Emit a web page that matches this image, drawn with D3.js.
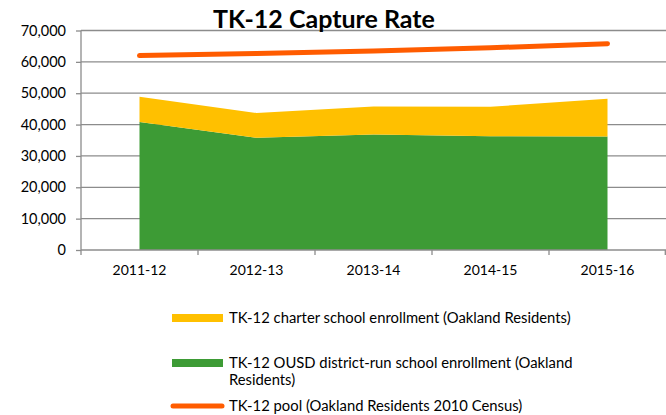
<!DOCTYPE html>
<html>
<head>
<meta charset="utf-8">
<script src="https://cdn.jsdelivr.net/npm/d3@7"></script>
<style>
  body { margin: 0; background: #fff; }
  svg { display: block; font-family: Lato, "Open Sans", sans-serif; }
</style>
</head>
<body>
<svg width="666" height="415"></svg>
<script>
// chart data
var years = ['2011-12', '2012-13', '2013-14', '2014-15', '2015-16'];
var district = [40800, 35800, 36800, 36300, 36200];
var charter = [8100, 7900, 9000, 9400, 12000];
var pool = [62000, 62700, 63500, 64500, 65800];
var yTicks = [0, 10000, 20000, 30000, 40000, 50000, 60000, 70000];

var svg = d3.select('svg');
var plotLeft = 81, plotRight = 666, plotTop = 30.5, plotBottom = 250;
var axisColor = '#8c8c8c';

var x = d3.scaleBand().domain(years).range([plotLeft, plotRight]);
var y = d3.scaleLinear().domain([0, 70000]).range([plotBottom, plotTop]);
var cx = function(d) { return x(d) + x.bandwidth() / 2; };

// gridlines
svg.append('g').selectAll('line')
  .data(yTicks.slice(1))
  .enter().append('line')
  .attr('x1', plotLeft).attr('x2', plotRight)
  .attr('y1', function(d) { return y(d); })
  .attr('y2', function(d) { return y(d); })
  .attr('stroke', axisColor).attr('stroke-width', 1.3);

var rows = years.map(function(yr, i) {
  return { year: yr, district: district[i], charter: charter[i] };
});
var stack = d3.stack().keys(['district', 'charter'])(rows);
var colors = { district: '#3d9b35', charter: '#ffc000' };

var area = d3.area()
  .x(function(d) { return cx(d.data.year); })
  .y0(function(d) { return y(d[0]); })
  .y1(function(d) { return y(d[1]); });

svg.append('g').selectAll('path')
  .data(stack)
  .enter().append('path')
  .attr('d', area)
  .attr('fill', function(s) { return colors[s.key]; });

// pool line
var line = d3.line()
  .x(function(d, i) { return cx(years[i]); })
  .y(function(d) { return y(d); });

svg.append('path')
  .datum(pool)
  .attr('d', line)
  .attr('fill', 'none')
  .attr('stroke', '#ff5c00')
  .attr('stroke-width', 5)
  .attr('stroke-linecap', 'round');

// axes
var yAxis = d3.axisLeft(y).tickValues(yTicks).tickSize(5).tickPadding(10)
  .tickFormat(d3.format(','));
var gy = svg.append('g').attr('transform', 'translate(' + plotLeft + ',0)').call(yAxis);
gy.select('.domain').attr('stroke', axisColor).attr('stroke-width', 1.3)
  .attr('d', 'M0,' + plotTop + 'V' + plotBottom);
gy.selectAll('.tick line').attr('stroke', axisColor).attr('stroke-width', 1.3);
gy.selectAll('text').attr('font-size', 14.5).attr('fill', '#000')
  .attr('font-family', 'Lato, "Open Sans", sans-serif');

var xAxis = d3.axisBottom(x).tickSize(0).tickPadding(15);
var gx = svg.append('g').attr('transform', 'translate(0,' + plotBottom + ')').call(xAxis);
gx.select('.domain').remove();
gx.append('line').attr('x1', plotLeft).attr('x2', plotRight)
  .attr('stroke', axisColor).attr('stroke-width', 1.3);
gx.selectAll('text').attr('font-size', 14).attr('fill', '#000')
  .attr('font-family', 'Lato, "Open Sans", sans-serif');
// category boundary ticks
var bounds = years.map(function(d) { return x(d); }).concat([plotRight - 0.7]);
gx.append('g').selectAll('line')
  .data(bounds)
  .enter().append('line')
  .attr('x1', function(d) { return d; }).attr('x2', function(d) { return d; })
  .attr('y1', 0).attr('y2', 5)
  .attr('stroke', axisColor).attr('stroke-width', 1.3);

// title
svg.append('text')
  .attr('x', 324).attr('y', 28)
  .attr('text-anchor', 'middle')
  .attr('font-size', 25).attr('font-weight', 'bold')
  .text('TK-12 Capture Rate');

// legend
var legend = [
  { lines: ['TK-12 charter school enrollment (Oakland Residents)'], color: '#ffc000', y: 318, kind: 'box' },
  { lines: ['TK-12 OUSD district-run school enrollment (Oakland', 'Residents)'], color: '#3d9b35', y: 363, kind: 'box' },
  { lines: ['TK-12 pool (Oakland Residents 2010 Census)'], color: '#ff5c00', y: 406, kind: 'line' }
];
var lg = svg.append('g').selectAll('g').data(legend).enter().append('g');
lg.each(function(d) {
  var g = d3.select(this);
  if (d.kind == 'box') {
    g.append('rect').attr('x', 172).attr('y', d.y - 4).attr('width', 51).attr('height', 8).attr('fill', d.color);
  } else {
    g.append('line').attr('x1', 173).attr('x2', 222).attr('y1', d.y).attr('y2', d.y)
      .attr('stroke', d.color).attr('stroke-width', 5).attr('stroke-linecap', 'round');
  }
  d.lines.forEach(function(t, i) {
    g.append('text').attr('x', 229).attr('y', d.y + 5 + i * 17)
      .attr('font-size', 14.8).attr('fill', '#000').text(t);
  });
});
</script>
</body>
</html>
